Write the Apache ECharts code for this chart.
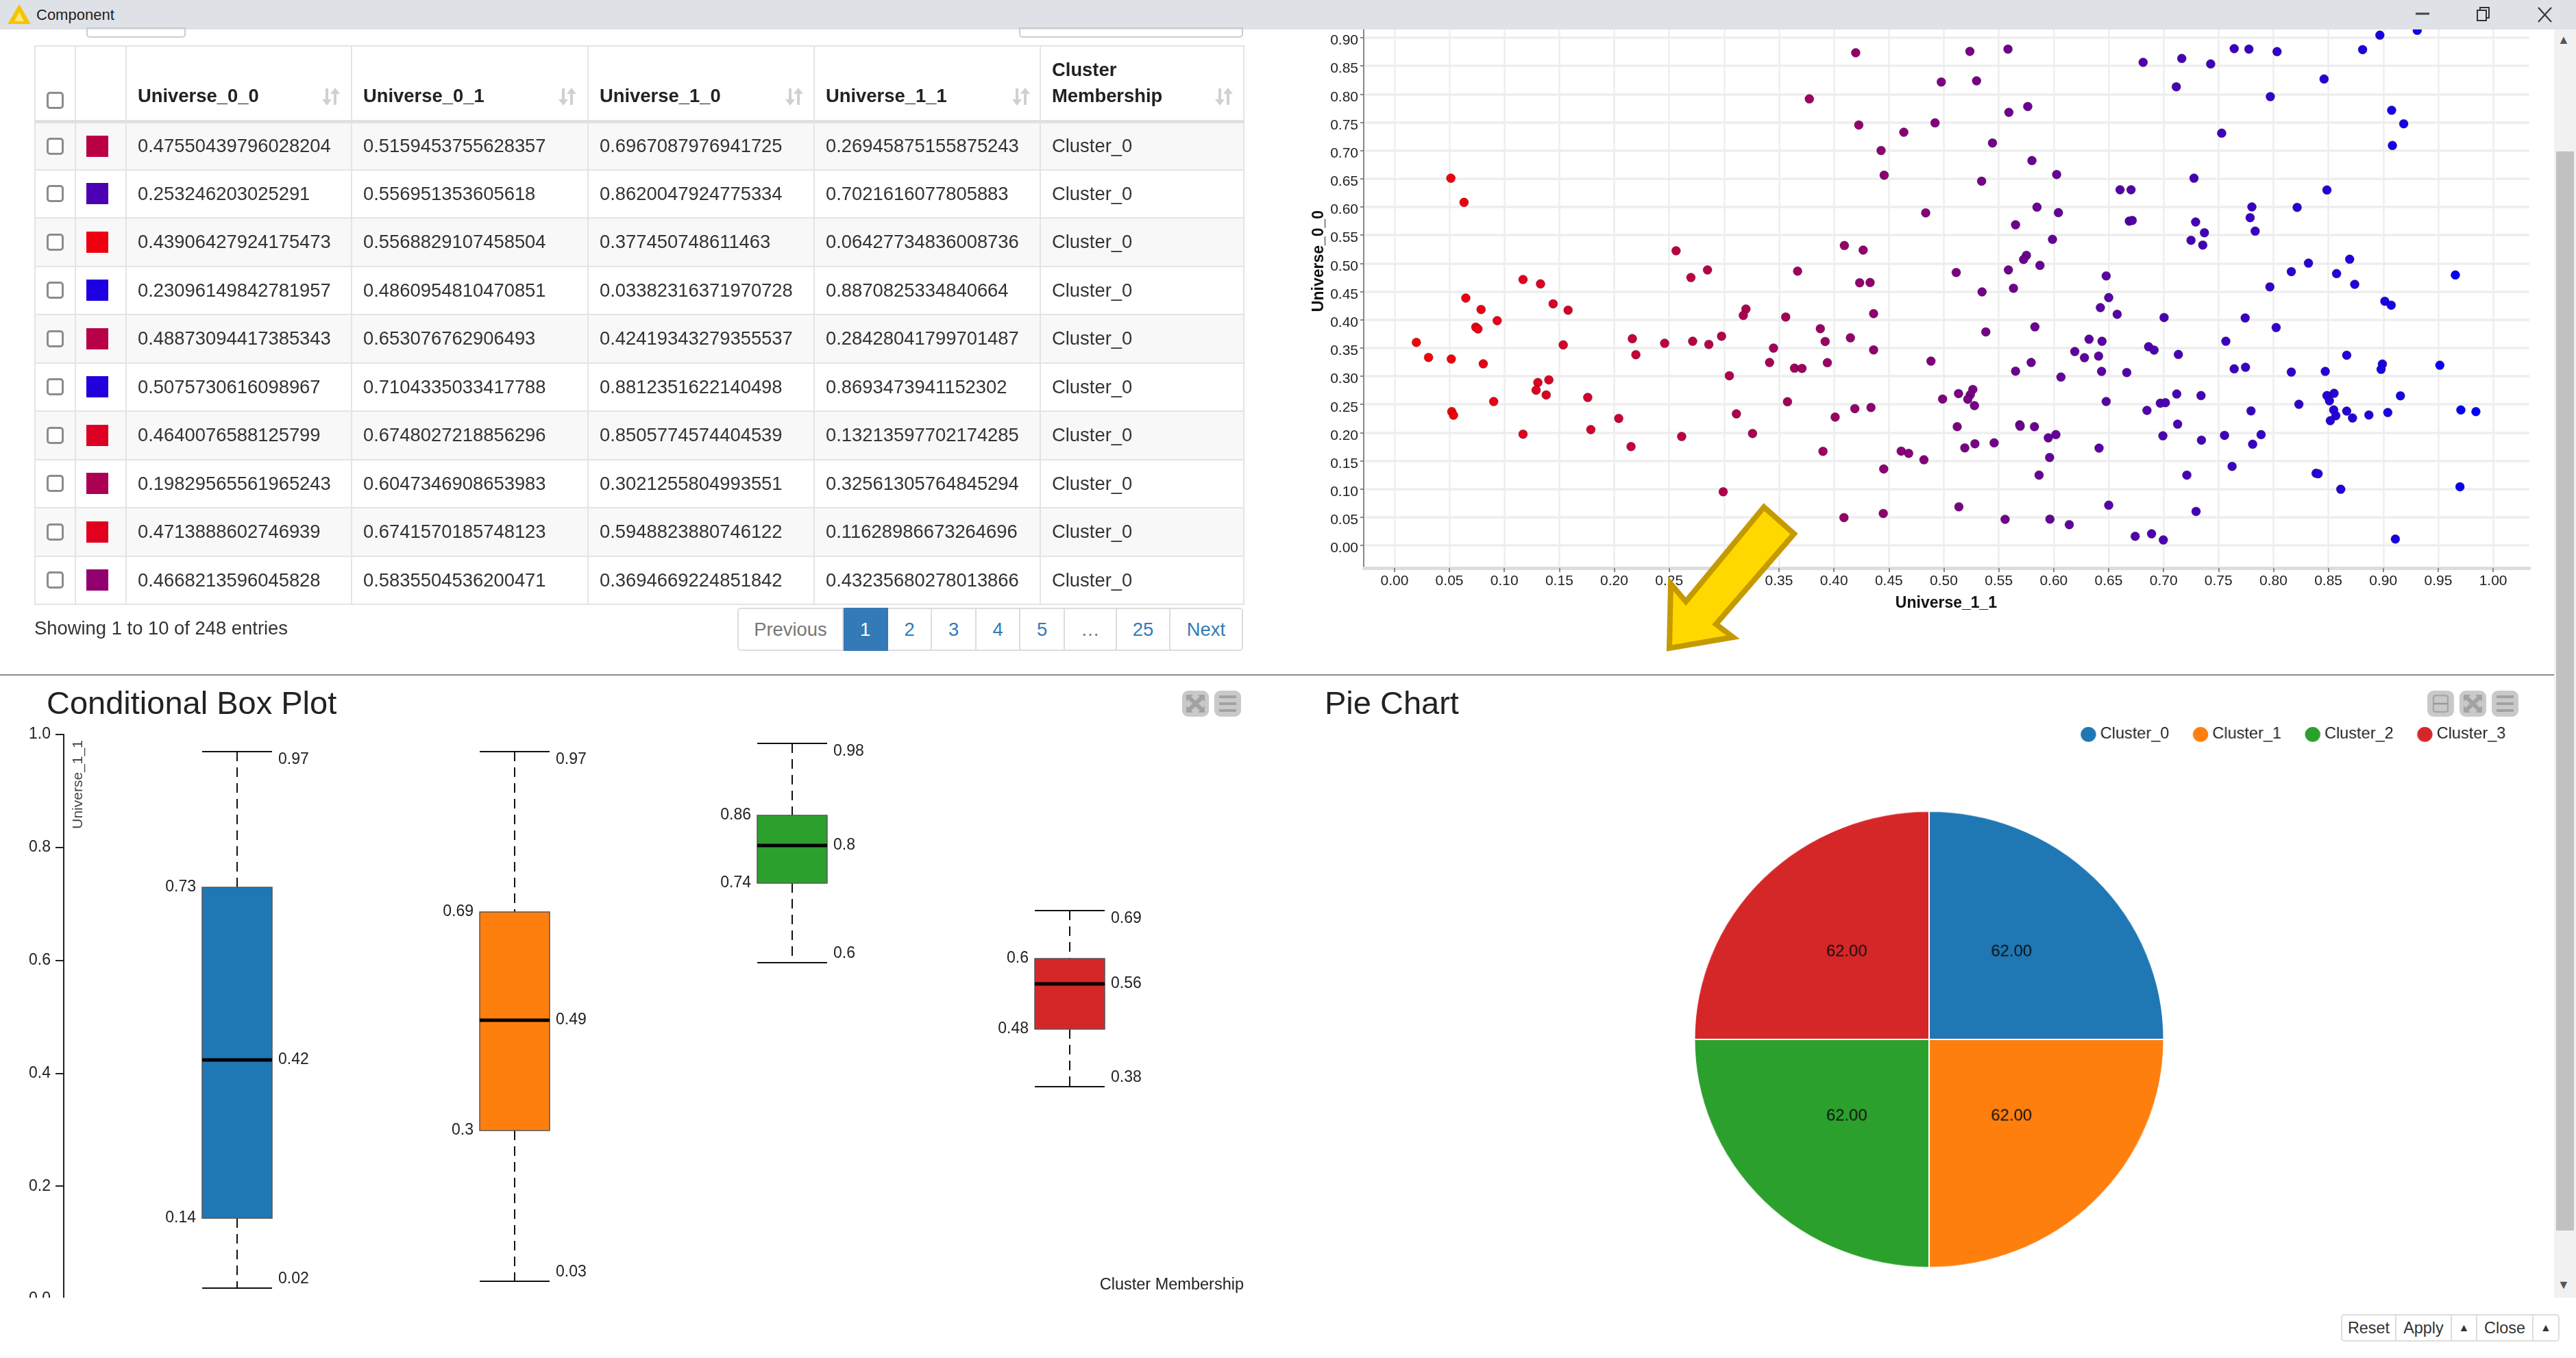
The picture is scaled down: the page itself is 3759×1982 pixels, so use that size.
<!DOCTYPE html>
<html>
<head>
<meta charset="utf-8" />
<title>Component</title>
<script src="https://cdn.jsdelivr.net/npm/echarts@6/dist/echarts.min.js"></script>
<style>
html, body { margin: 0; padding: 0; background: #fff; overflow: hidden; }
body { width: 3759px; height: 1982px; position: relative; font-family: "Liberation Sans", Arial, sans-serif; color: #333; }
.box { position: absolute; box-sizing: border-box; }
#chart { position: absolute; left: 0; top: 0; width: 3759px; height: 1982px; }
/* the pie in the reference is a little wider than tall */
#pieChart { position: absolute; left: 1965px; top: 1030px; width: 1700px; height: 974px; transform: scale(1.015, 0.987); transform-origin: 50% 50%; }
#tableWrap { left: 50px; top: 66px; width: 1764px; }
table { border-collapse: collapse; table-layout: fixed; width: 1764px; font-size: 27.4px; }
th, td { border: 2px solid #e4e4e4; padding: 0 0 0 16px; text-align: left; white-space: nowrap; position: relative; box-sizing: border-box; }
th { height: 110px; font-weight: bold; vertical-align: bottom; padding-bottom: 16px; border-bottom: 5px solid #e0e0e0; line-height: 38px; color: #222; }
td { height: 70.5px; }
tr:nth-child(even) td { background: #f8f8f8; }
.sel { padding: 0; text-align: center; }
.sel input { appearance: none; -webkit-appearance: none; display: block; width: 25px; height: 25px; margin: 0 auto; border: 3px solid #8c8c8c; border-radius: 5px; background: #fff; box-sizing: border-box; }
.swatch { padding: 0; }
.swatch div { width: 32px; height: 31px; margin-left: 15px; }
.sort { position: absolute; bottom: 20px; width: 28px; height: 28px; }
.page { top: 887px; height: 63px; border: 2px solid #ddd; border-left-width: 0; line-height: 59px; text-align: center; font-size: 27.4px; color: #337ab7; background: #fff; }
.icon { width: 39px; height: 38px; top: 1008px; background: #c9c9c9; border-radius: 9px; }
.btn { top: 1918px; height: 40px; border: 2px solid #ddd; border-left-width: 0; text-align: center; font-size: 23.4px; line-height: 36px; color: #333; background: #fff; }
</style>
</head>
<body>
<div id="chart"></div>
<div id="pieChart"></div>

<!-- title bar -->
<div class="box" style="left:0;top:0;width:3759px;height:43px;background:#dee1e6;"></div>
<svg class="box" style="left:10px;top:6px;" width="36" height="30"><polygon points="18,2 33,28 3,28" fill="#f5c400" stroke="#f5c400" stroke-width="2"/><polygon points="18,12 25,25 11,25" fill="#ffe680"/></svg>
<div class="box" style="left:53px;top:9px;font-size:22px;color:#222;">Component</div>
<svg class="box" style="left:3520px;top:8px;" width="210" height="26">
  <line x1="5" y1="12" x2="25" y2="12" stroke="#444" stroke-width="3"/>
  <rect x="95" y="7" width="13" height="15" fill="none" stroke="#333" stroke-width="2"/>
  <path d="M99 7 V3 H112 V18 H108" fill="none" stroke="#333" stroke-width="2"/>
  <path d="M184 3 L203 24 M203 3 L184 24" stroke="#333" stroke-width="2"/>
</svg>

<!-- stubs of the controls scrolled under the title bar -->
<div class="box" style="left:126px;top:40px;width:145px;height:15px;border:2px solid #ccc;border-radius:0 0 5px 5px;"></div>
<div class="box" style="left:1487px;top:40px;width:327px;height:15px;border:2px solid #ccc;border-radius:0 0 5px 5px;"></div>

<div id="tableWrap" class="box"></div>
<div class="box" style="left:50px;top:901px;font-size:27.4px;">Showing 1 to 10 of 248 entries</div>
<div id="pager"></div>

<div class="box" style="left:0;top:984px;width:3729px;height:2px;background:#8c8c8c;"></div>

<!-- panel icons -->
<div id="icons"></div>

<!-- bottom bar and scrollbar -->
<div class="box" style="left:0;top:1894px;width:3759px;height:88px;background:#fff;"></div>
<div class="box" style="left:3727px;top:43px;width:32px;height:1851px;background:#f1f1f1;"></div>
<div class="box" style="left:3730px;top:221px;width:26px;height:1575px;background:#c1c1c1;"></div>
<div class="box" style="left:3732px;top:48px;font-size:18px;color:#555;">&#x25B2;</div>
<div class="box" style="left:3732px;top:1865px;font-size:18px;color:#555;">&#x25BC;</div>
<div id="buttons"></div>

<script>
// table
var tableHead = ['Universe_0_0', 'Universe_0_1', 'Universe_1_0', 'Universe_1_1'];
var colU00 = ['0.47550439796028204', '0.253246203025291', '0.43906427924175473', '0.23096149842781957', '0.48873094417385343', '0.5075730616098967', '0.4640076588125799', '0.19829565561965243', '0.4713888602746939', '0.4668213596045828'];
var colU01 = ['0.5159453755628357', '0.556951353605618', '0.5568829107458504', '0.4860954810470851', '0.653076762906493', '0.7104335033417788', '0.6748027218856296', '0.6047346908653983', '0.6741570185748123', '0.5835504536200471'];
var colU10 = ['0.6967087976941725', '0.8620047924775334', '0.377450748611463', '0.03382316371970728', '0.42419343279355537', '0.8812351622140498', '0.8505774574404539', '0.3021255804993551', '0.5948823880746122', '0.3694669224851842'];
var colU11 = ['0.26945875155875243', '0.7021616077805883', '0.06427734836008736', '0.8870825334840664', '0.28428041799701487', '0.8693473941152302', '0.13213597702174285', '0.32561305764845294', '0.11628986673264696', '0.43235680278013866'];

// scatter, Universe_1_1 against Universe_0_0
var scatterX = [.4198,.3776,.4226,.4636,.4429,.4457,.0513,.0633,.4835,.4095,.4266,.2563,.2849,.3669,.5113,.2698,.1170,.1329,.4234,.4329,.0649,.1444,.0788,.1580,.3199,.3175,.4361,.3561,.0935,.0740,.0760,.3876,
  .5237,.5584,.4977,.5298,.5764,.5592,.4920,.5443,.5802,.6027,.5344,.5848,.6043,.5653,.5989,.5752,.5726,.5875,.5588,.5348,.5634,.5829,.5382,.6478,.6501,.6425,.6578,.7005,.7743,.8025,
  .6814,.7166,.7429,.7643,.7777,.8033,.8812,.8969,.9309,.8434,.7116,.8461,.7972,.9076,.9186,.7529,.9083,.7277,.8487,.6604,.6704,.7804,.8216,.7788,.6688,.6715,.7292,.7372,.7834,.7250,.7357,.8694,.8319,.8163,.8575,.9656,.8740,.7968,.9014,.9072,
  .0199,.0310,.0517,.0808,.1536,.2165,.2197,.2459,.2714,.2861,.2977,.3450,.3920,.4150,.4361,.3414,.3641,.3709,.3940,.3048,.1305,.1405,.1289,.1381,.1759,.0903,.0521,.0537,.3577,.4190,.4337,.3112,.4011,.2041,.1787,.1170,.2614,.3259,.2153,.3900,.4612,.4680,.4819,.4453,.2992,.5137,.4449,.4091,.4883,
  .6322,.6440,.7567,.6864,.6914,.7135,.8667,.6192,.6280,.6409,.5795,.5653,.6436,.6665,.6066,.7643,.7746,.8163,.8472,.8992,.8980,.9515,
  .5264,.5134,.4989,.5241,.5218,.5279,.7120,.7341,.8552,.8487,.8510,.9156,.6478,.6971,.7017,.8232,.6849,.7796,.8549,.8568,.8667,.8720,.8869,.9041,.9706,.9843,.8518,
  .5122,.5691,.5695,.5825,.7128,.6020,.5951,.6994,.7555,.7888,.7345,.5283,.5458,.5191,.7811,.6413,.5963,.7624,.5867,.7212,.8388,.8407,.8613,.9698,.6501,.7296,.5558,.5966,.6142,.6742,.6891,.6998,.9110];
var scatterY = [.8733,.7915,.7453,.7324,.7000,.6563,.6510,.6081,.5895,.5316,.5235,.5223,.4883,.4862,.4838,.4749,.4713,.4636,.4656,.4660,.4385,.4283,.4182,.4170,.4190,.4077,.4109,.4049,.3984,.3870,.3838,.3842,
  .8757,.8798,.8215,.8235,.7781,.7676,.7490,.7134,.6822,.6575,.6457,.5996,.5899,.5684,.5425,.5142,.5069,.4964,.4883,.4494,.4559,.3874,.3785,.4777,.4393,.4215,.4097,.4040,.4032,.3862,
  .8563,.8632,.8534,.8806,.8798,.8753,.8789,.9045,.9130,.9250,.8130,.8267,.7955,.7713,.7474,.7308,.7089,.6510,.6300,.6304,.6304,.6000,.5992,.5810,.5749,.5761,.5733,.5543,.5571,.5409,.5324,.5073,.5004,.4854,.4818,.4794,.4628,.4583,.4328,.4259,
  .3599,.3332,.3304,.3219,.3555,.3664,.3381,.3583,.3619,.3563,.3709,.3498,.3615,.3680,.3466,.3243,.3142,.3138,.3239,.3008,.2887,.2935,.2753,.2668,.2623,.2551,.2372,.2308,.2547,.2425,.2445,.2332,.2275,.2251,.2053,.1972,.1931,.1984,.1753,.1668,.1672,.1632,.1518,.1356,.0951,.0684,.0567,.0494,.3267,
  .3656,.3619,.3619,.3522,.3462,.3385,.3372,.3437,.3328,.3356,.3243,.3089,.3085,.3065,.2984,.3130,.3158,.3073,.3085,.3215,.3121,.3194,
  .2765,.2692,.2595,.2672,.2591,.2478,.2684,.2656,.2696,.2656,.2563,.2652,.2551,.2522,.2530,.2502,.2393,.2385,.2401,.2300,.2381,.2259,.2312,.2356,.2401,.2372,.2211,
  .2105,.2138,.2113,.2105,.2150,.1964,.1907,.1943,.1951,.1964,.1866,.1802,.1818,.1729,.1794,.1725,.1559,.1401,.1247,.1247,.1279,.1271,.0996,.1040,.0713,.0603,.0462,.0466,.0368,.0162,.0206,.0097,.0113];
var scatterTicksX = [0, 0.05, 0.1, 0.15, 0.2, 0.25, 0.3, 0.35, 0.4, 0.45, 0.5, 0.55, 0.6, 0.65, 0.7, 0.75, 0.8, 0.85, 0.9, 0.95, 1];
var scatterTicksY = [0, 0.05, 0.1, 0.15, 0.2, 0.25, 0.3, 0.35, 0.4, 0.45, 0.5, 0.55, 0.6, 0.65, 0.7, 0.75, 0.8, 0.85, 0.9, 0.95];

// box plot and pie
var clusterNames = ['Cluster_0', 'Cluster_1', 'Cluster_2', 'Cluster_3'];
var clusterColors = ['#1f77b4', '#ff7f0e', '#2ca02c', '#d62728'];
var boxMin = [0.019, 0.032, 0.596, 0.376];
var boxQ1 = [0.143, 0.298, 0.737, 0.478];
var boxMedian = [0.424, 0.494, 0.803, 0.558];
var boxQ3 = [0.729, 0.686, 0.857, 0.603];
var boxMax = [0.97, 0.97, 0.984, 0.688];
var pieValues = [62, 62, 62, 62];

var FONT = '"Liberation Sans", Arial, sans-serif';

// build the table
var sortIcon = '<path d="M6 2H10V18H15L8 27L1 18H6ZM18 26H22V10H27L20 1L13 10H18Z" fill="#d0d0d0"/>';
var html = '<table><colgroup><col style="width:59px"><col style="width:74px"><col style="width:329px"><col style="width:345px"><col style="width:330px"><col style="width:330px"><col style="width:297px"></colgroup>';
html += '<tr><th class="sel" style="padding-bottom:16px"><input type="checkbox"></th><th></th>';
var sortLeft = [284, 300, 286, 287];
for (var i = 0; i < tableHead.length; i++) {
  html += '<th>' + tableHead[i] + '<svg class="sort" style="left:' + sortLeft[i] + 'px" viewBox="0 0 28 28">' + sortIcon + '</svg></th>';
}
html += '<th>Cluster<br>Membership<svg class="sort" style="left:253px" viewBox="0 0 28 28">' + sortIcon + '</svg></th></tr>';
for (var r = 0; r < colU00.length; r++) {
  var t = parseFloat(colU11[r]);
  var swatch = 'rgb(' + Math.round(255 * (1 - t)) + ',0,' + Math.round(255 * t) + ')';
  html += '<tr><td class="sel"><input type="checkbox"></td><td class="swatch"><div style="background:' + swatch + '"></div></td>';
  html += '<td>' + colU00[r] + '</td><td>' + colU01[r] + '</td><td>' + colU10[r] + '</td><td>' + colU11[r] + '</td><td>Cluster_0</td></tr>';
}
document.getElementById('tableWrap').innerHTML = html + '</table>';

// pager and bottom buttons
function strip(host, cls, edges, labels, first) {
  var out = '';
  for (var i = 0; i < labels.length; i++) {
    var extra = i == 0 ? 'border-left-width:2px;border-radius:5px 0 0 5px;' : '';
    if (i == labels.length - 1) extra += 'border-radius:0 5px 5px 0;';
    if (first && labels[i] == '1') extra += 'background:#337ab7;border-color:#337ab7;color:#fff;';
    if (first && (labels[i] == 'Previous' || labels[i] == '…')) extra += 'color:#777;';
    if (labels[i] == '▲') extra += 'font-size:16px;';
    out += '<div class="box ' + cls + '" style="left:' + edges[i] + 'px;width:' + (edges[i + 1] - edges[i]) + 'px;' + extra + '">' + labels[i] + '</div>';
  }
  document.getElementById(host).innerHTML = out;
}
strip('pager', 'page', [1076, 1231, 1296, 1360, 1425, 1489, 1554, 1630, 1708, 1814], ['Previous', '1', '2', '3', '4', '5', '…', '25', 'Next'], true);
strip('buttons', 'btn', [3416, 3497, 3578, 3615, 3697, 3735], ['Reset', 'Apply', '▲', 'Close', '▲'], false);

// panel icons
var glyphMenu = '<path d="M7 9H32M7 19H32M7 29H32" stroke="#a2a2a2" stroke-width="4"/>';
var glyphExpand = '<path d="M9 9L30 29M30 9L9 29" stroke="#a2a2a2" stroke-width="6"/><path d="M6 6H16L6 16ZM33 6H23L33 16ZM6 32H16L6 22ZM33 32H23L33 22Z" fill="#a2a2a2"/>';
var glyphBox = '<rect x="9" y="7" width="21" height="24" rx="3" fill="none" stroke="#a8a8a8" stroke-width="2.5"/><path d="M9 19H30" stroke="#999" stroke-width="2.5"/>';
var iconLeft = [1725, 1772, 3542, 3589, 3636];
var iconGlyph = [glyphExpand, glyphMenu, glyphBox, glyphExpand, glyphMenu];
document.getElementById('icons').innerHTML = iconLeft.map(function (l, i) {
  return '<svg class="box icon" style="left:' + l + 'px" viewBox="0 0 39 38">' + iconGlyph[i] + '</svg>';
}).join('');

function renderBox(params, api) {
  var idx = api.value(0);
  var x = Math.round(api.coord([idx, 0])[0] - 1);
  var half = Math.round(api.size([1, 0])[0] * 0.125);
  function py(dim) { return Math.round(api.coord([idx, api.value(dim)])[1]); }
  function label(v) { return String(Math.round(v * 100) / 100); }
  function text(str, tx, ty, align) {
    return { type: 'text', z2: 5, style: { text: str, x: tx, y: ty, textAlign: align, textVerticalAlign: 'middle', fontFamily: FONT, fontSize: 23, fill: '#222' } };
  }
  var blackLine = { stroke: '#111', lineWidth: 2 };
  var dashed = { stroke: '#111', lineWidth: 2, lineDash: [14, 9] };
  var vMin = py(1), vQ1 = py(2), vMed = py(3), vQ3 = py(4), vMax = py(5);
  return {
    type: 'group',
    children: [
      { type: 'line', shape: { x1: x, y1: vMax, x2: x, y2: vQ3 }, style: dashed },
      { type: 'line', shape: { x1: x, y1: vQ1, x2: x, y2: vMin }, style: dashed },
      { type: 'line', shape: { x1: x - half, y1: vMax, x2: x + half, y2: vMax }, style: blackLine },
      { type: 'line', shape: { x1: x - half, y1: vMin, x2: x + half, y2: vMin }, style: blackLine },
      { type: 'rect', shape: { x: x - half, y: vQ3, width: half * 2, height: vQ1 - vQ3 }, style: { fill: clusterColors[idx], stroke: '#555', lineWidth: 1.5 } },
      { type: 'line', shape: { x1: x - half, y1: vMed, x2: x + half, y2: vMed }, style: { stroke: '#000', lineWidth: 5 } },
      text(label(api.value(5)), x + half + 9, vMax + 12, 'left'),
      text(label(api.value(3)), x + half + 9, vMed, 'left'),
      text(label(api.value(1)), x + half + 9, vMin - 13, 'left'),
      text(label(api.value(4)), x - half - 9, vQ3, 'right'),
      text(label(api.value(2)), x - half - 9, vQ1, 'right')
    ]
  };
}

var chart = echarts.init(document.getElementById('chart'), null, { renderer: 'canvas' });
chart.setOption({
  animation: false,
  textStyle: { fontFamily: FONT },
  title: [
    { text: 'Conditional Box Plot', left: 68, top: 1006, padding: 0, textStyle: { fontSize: 47, fontWeight: 'normal', color: '#222', fontFamily: FONT } },
    { text: 'Pie Chart', left: 1933, top: 1006, padding: 0, textStyle: { fontSize: 47, fontWeight: 'normal', color: '#222', fontFamily: FONT } }
  ],
  grid: [
    { left: 1990, top: 5.6, width: 1701, height: 823.4 },
    { left: 144, top: 1072, width: 1620, height: 824 }
  ],
  xAxis: [
    {
      type: 'value', gridIndex: 0, min: -0.028, max: 1.033,
      axisLine: { onZero: false, lineStyle: { color: '#ddd', width: 5 } },
      axisTick: { show: true, length: 6, customValues: scatterTicksX, lineStyle: { color: '#888', width: 2 } },
      axisLabel: { customValues: scatterTicksX, fontSize: 21, color: '#222', margin: 9, formatter: function (v) { return v.toFixed(2); } },
      splitLine: { show: true, lineStyle: { color: '#eeeeee', width: 2.5 } }
    },
    { type: 'category', gridIndex: 1, data: clusterNames, show: false }
  ],
  yAxis: [
    {
      type: 'value', gridIndex: 0, min: -0.04, max: 0.96,
      axisLine: { show: true, onZero: false, lineStyle: { color: '#888', width: 2 } },
      axisTick: { show: true, length: 5, customValues: scatterTicksY, lineStyle: { color: '#888', width: 2 } },
      axisLabel: {
        customValues: scatterTicksY, margin: 8,
        formatter: function (v) { return '{t|' + v.toFixed(2) + '}'; },
        rich: { t: { fontSize: 21, color: '#222', padding: [9, 0, 0, 0] } }
      },
      splitLine: { show: true, lineStyle: { color: '#eeeeee', width: 3.5 } }
    },
    {
      type: 'value', gridIndex: 1, min: 0, max: 1, interval: 0.2, offset: 51,
      axisLine: { show: true, onZero: false, lineStyle: { color: '#222', width: 2 } },
      axisTick: { show: true, length: 12, lineStyle: { color: '#222', width: 2 } },
      axisLabel: { fontSize: 23, color: '#222', margin: 19, formatter: function (v) { return v.toFixed(1); } },
      splitLine: { show: false }
    }
  ],
  visualMap: {
    type: 'continuous', show: false, seriesIndex: 0, dimension: 0, min: 0, max: 1,
    inRange: { color: ['#ff0000', '#0000ff'] }
  },
  series: [
    {
      type: 'scatter', xAxisIndex: 0, yAxisIndex: 0, symbolSize: 13,
      itemStyle: { opacity: 1, borderColor: 'rgba(0,0,0,0.3)', borderWidth: 1 },
      data: scatterX.map(function (x, i) { return [x, scatterY[i]]; })
    },
    {
      type: 'custom', xAxisIndex: 1, yAxisIndex: 1, renderItem: renderBox, clip: false,
      encode: { x: 0, y: [1, 2, 3, 4, 5] },
      data: clusterNames.map(function (n, i) { return [i, boxMin[i], boxQ1[i], boxMedian[i], boxQ3[i], boxMax[i]]; })
    }
  ],
  graphic: [
    { type: 'text', x: 1925, y: 381, rotation: Math.PI / 2, z: 10, style: { text: 'Universe_0_0', fontFamily: FONT, fontWeight: 'bold', fontSize: 23, fill: '#111', textAlign: 'center', textVerticalAlign: 'middle' } },
    { type: 'text', x: 2840, y: 881, z: 10, style: { text: 'Universe_1_1', fontFamily: FONT, fontWeight: 'bold', fontSize: 23, fill: '#111', textAlign: 'center', textVerticalAlign: 'middle' } },
    { type: 'text', x: 114, y: 1145, rotation: Math.PI / 2, z: 10, style: { text: 'Universe_1_1', fontFamily: FONT, fontSize: 21, fill: '#444', textAlign: 'center', textVerticalAlign: 'middle' } },
    { type: 'text', x: 1815, y: 1876, z: 10, style: { text: 'Cluster Membership', fontFamily: FONT, fontSize: 23.5, fill: '#222', textAlign: 'right', textVerticalAlign: 'middle' } },
    {
      type: 'polygon', z: 20,
      shape: { points: [[2574, 740], [2618, 779], [2504, 911], [2529, 930], [2436, 946], [2438, 852], [2460, 878]] },
      style: { fill: '#ffd800', stroke: '#c49a00', lineWidth: 8, lineJoin: 'miter' }
    }
  ]
});

var pieChart = echarts.init(document.getElementById('pieChart'), null, { renderer: 'canvas' });
pieChart.setOption({
  animation: false,
  textStyle: { fontFamily: FONT },
  legend: {
    left: 1066, top: 23, padding: 0, icon: 'circle', itemWidth: 24, itemHeight: 24, itemGap: 32, selectedMode: false,
    data: clusterNames, textStyle: { fontSize: 23.2, color: '#222', padding: 0 }
  },
  series: [
    {
      type: 'pie', center: ['50%', '50%'], radius: 337.5, startAngle: 90,
      itemStyle: { borderColor: '#fff', borderWidth: 2 },
      label: { position: 'inside', fontSize: 23.5, color: '#111', formatter: function (p) { return p.value.toFixed(2); } },
      labelLine: { show: false },
      labelLayout: function (p) { return { dx: p.dataIndex < 2 ? -3 : 3, dy: -8 }; },
      data: clusterNames.map(function (n, i) { return { name: n, value: pieValues[i], itemStyle: { color: clusterColors[i] } }; })
    }
  ]
});
</script>
</body>
</html>
